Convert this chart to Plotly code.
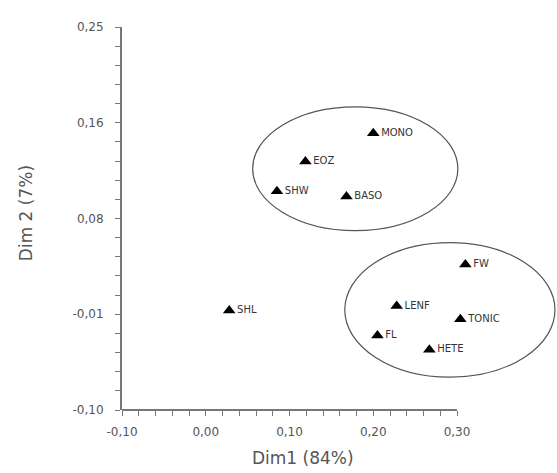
import plotly.graph_objects as go

# ---- data ----
labels = ["MONO", "EOZ", "SHW", "BASO", "SHL", "FW", "LENF", "TONIC", "FL", "HETE"]
dim1 = [0.200, 0.119, 0.085, 0.168, 0.028, 0.310, 0.228, 0.304, 0.205, 0.267]
dim2 = [0.153, 0.127, 0.100, 0.095, -0.009, 0.033, -0.005, -0.017, -0.032, -0.045]

x_tickvals = [-0.10, 0.00, 0.10, 0.20, 0.30]
x_ticktext = ["-0,10", "0,00", "0,10", "0,20", "0,30"]
y_tickvals = [-0.10, -0.0125, 0.075, 0.1625, 0.25]
y_ticktext = ["-0,10", "-0,01", "0,08", "0,16", "0,25"]

# cluster ellipses (data coords: x0, x1, y0, y1)
cluster_upper = [0.056, 0.301, 0.064, 0.177]
cluster_lower = [0.166, 0.417, -0.070, 0.053]

XAXIS_END = 0.30   # where the drawn x axis stops
YR = [-0.10, 0.25]

W, H = 557, 473
ML, MR, MT, MB = 122, 0, 27, 63
plot_w = W - ML - MR
AXIS_PX = 335                      # drawn axis length in px
XR = [-0.10, -0.10 + (XAXIS_END + 0.10) * plot_w / AXIS_PX]

# minor tick positions (axis furniture, not data)
x_minor = [round(-0.10 + 0.02 * i, 4) for i in range(21) if i % 5]
y_minor = [round(-0.10 + 0.0175 * i, 5) for i in range(21) if i % 5]


def to_paper_x(v):
    return (v - XR[0]) / (XR[1] - XR[0])


def to_paper_y(v):
    return (v - YR[0]) / (YR[1] - YR[0])


FONT = "DejaVu Sans"
AX_COL = "#777"
TXT_COL = "#555"

fig = go.Figure()
fig.add_trace(go.Scatter(
    x=dim1, y=dim2, mode="markers+text", text=labels,
    textposition="middle right",
    textfont=dict(family=FONT, size=10, color="#333"),
    marker=dict(symbol="triangle-up", size=11, color="black"),
    cliponaxis=False, showlegend=False,
))

shapes = [
    # x axis line, stopping at 0.30
    dict(type="line", xref="paper", yref="paper",
         x0=to_paper_x(XR[0]), x1=to_paper_x(XAXIS_END), y0=0, y1=0,
         line=dict(color=AX_COL, width=2)),
]
for e in (cluster_upper, cluster_lower):
    shapes.append(dict(
        type="circle", xref="paper", yref="paper",
        x0=to_paper_x(e[0]), x1=to_paper_x(e[1]),
        y0=to_paper_y(e[2]), y1=to_paper_y(e[3]),
        line=dict(color="#555", width=1.2),
    ))

tickfont = dict(family=FONT, size=12, color=TXT_COL)

fig.update_layout(
    width=W, height=H,
    margin=dict(l=ML, r=MR, t=MT, b=MB),
    plot_bgcolor="rgba(0,0,0,0)", paper_bgcolor="white",
    xaxis=dict(range=XR, showgrid=False, zeroline=False, showline=False,
               tickmode="array", tickvals=x_tickvals, ticktext=x_ticktext,
               ticks="outside", ticklen=5, tickwidth=1.2, tickcolor=AX_COL,
               tickfont=tickfont, ticklabelstandoff=6,
               minor=dict(tickmode="array", tickvals=x_minor, ticks="outside",
                          ticklen=5, tickcolor=AX_COL, tickwidth=1.2)),
    yaxis=dict(range=YR, showgrid=False, zeroline=False, showline=True,
               linecolor=AX_COL, linewidth=2,
               tickmode="array", tickvals=y_tickvals, ticktext=y_ticktext,
               ticks="outside", ticklen=5, tickwidth=1.2, tickcolor=AX_COL,
               tickfont=tickfont, ticklabelstandoff=9,
               minor=dict(tickmode="array", tickvals=y_minor, ticks="outside",
                          ticklen=5, tickcolor=AX_COL, tickwidth=1.2)),
    shapes=shapes,
    annotations=[
        dict(text="Dim1 (84%)", xref="paper", yref="paper",
             x=to_paper_x(0.116), y=-0.125,
             showarrow=False, xanchor="center", yanchor="middle",
             font=dict(family=FONT, size=17, color=TXT_COL)),
        dict(text="Dim 2 (7%)", xref="paper", yref="paper", x=-0.222, y=0.515,
             showarrow=False, textangle=-90, xanchor="center", yanchor="middle",
             font=dict(family=FONT, size=17, color=TXT_COL)),
    ],
)

fig.write_html(
    "out.html",
    config={"displayModeBar": False},
    post_script="document.body.style.margin='0';document.body.style.overflow='hidden';",
)
